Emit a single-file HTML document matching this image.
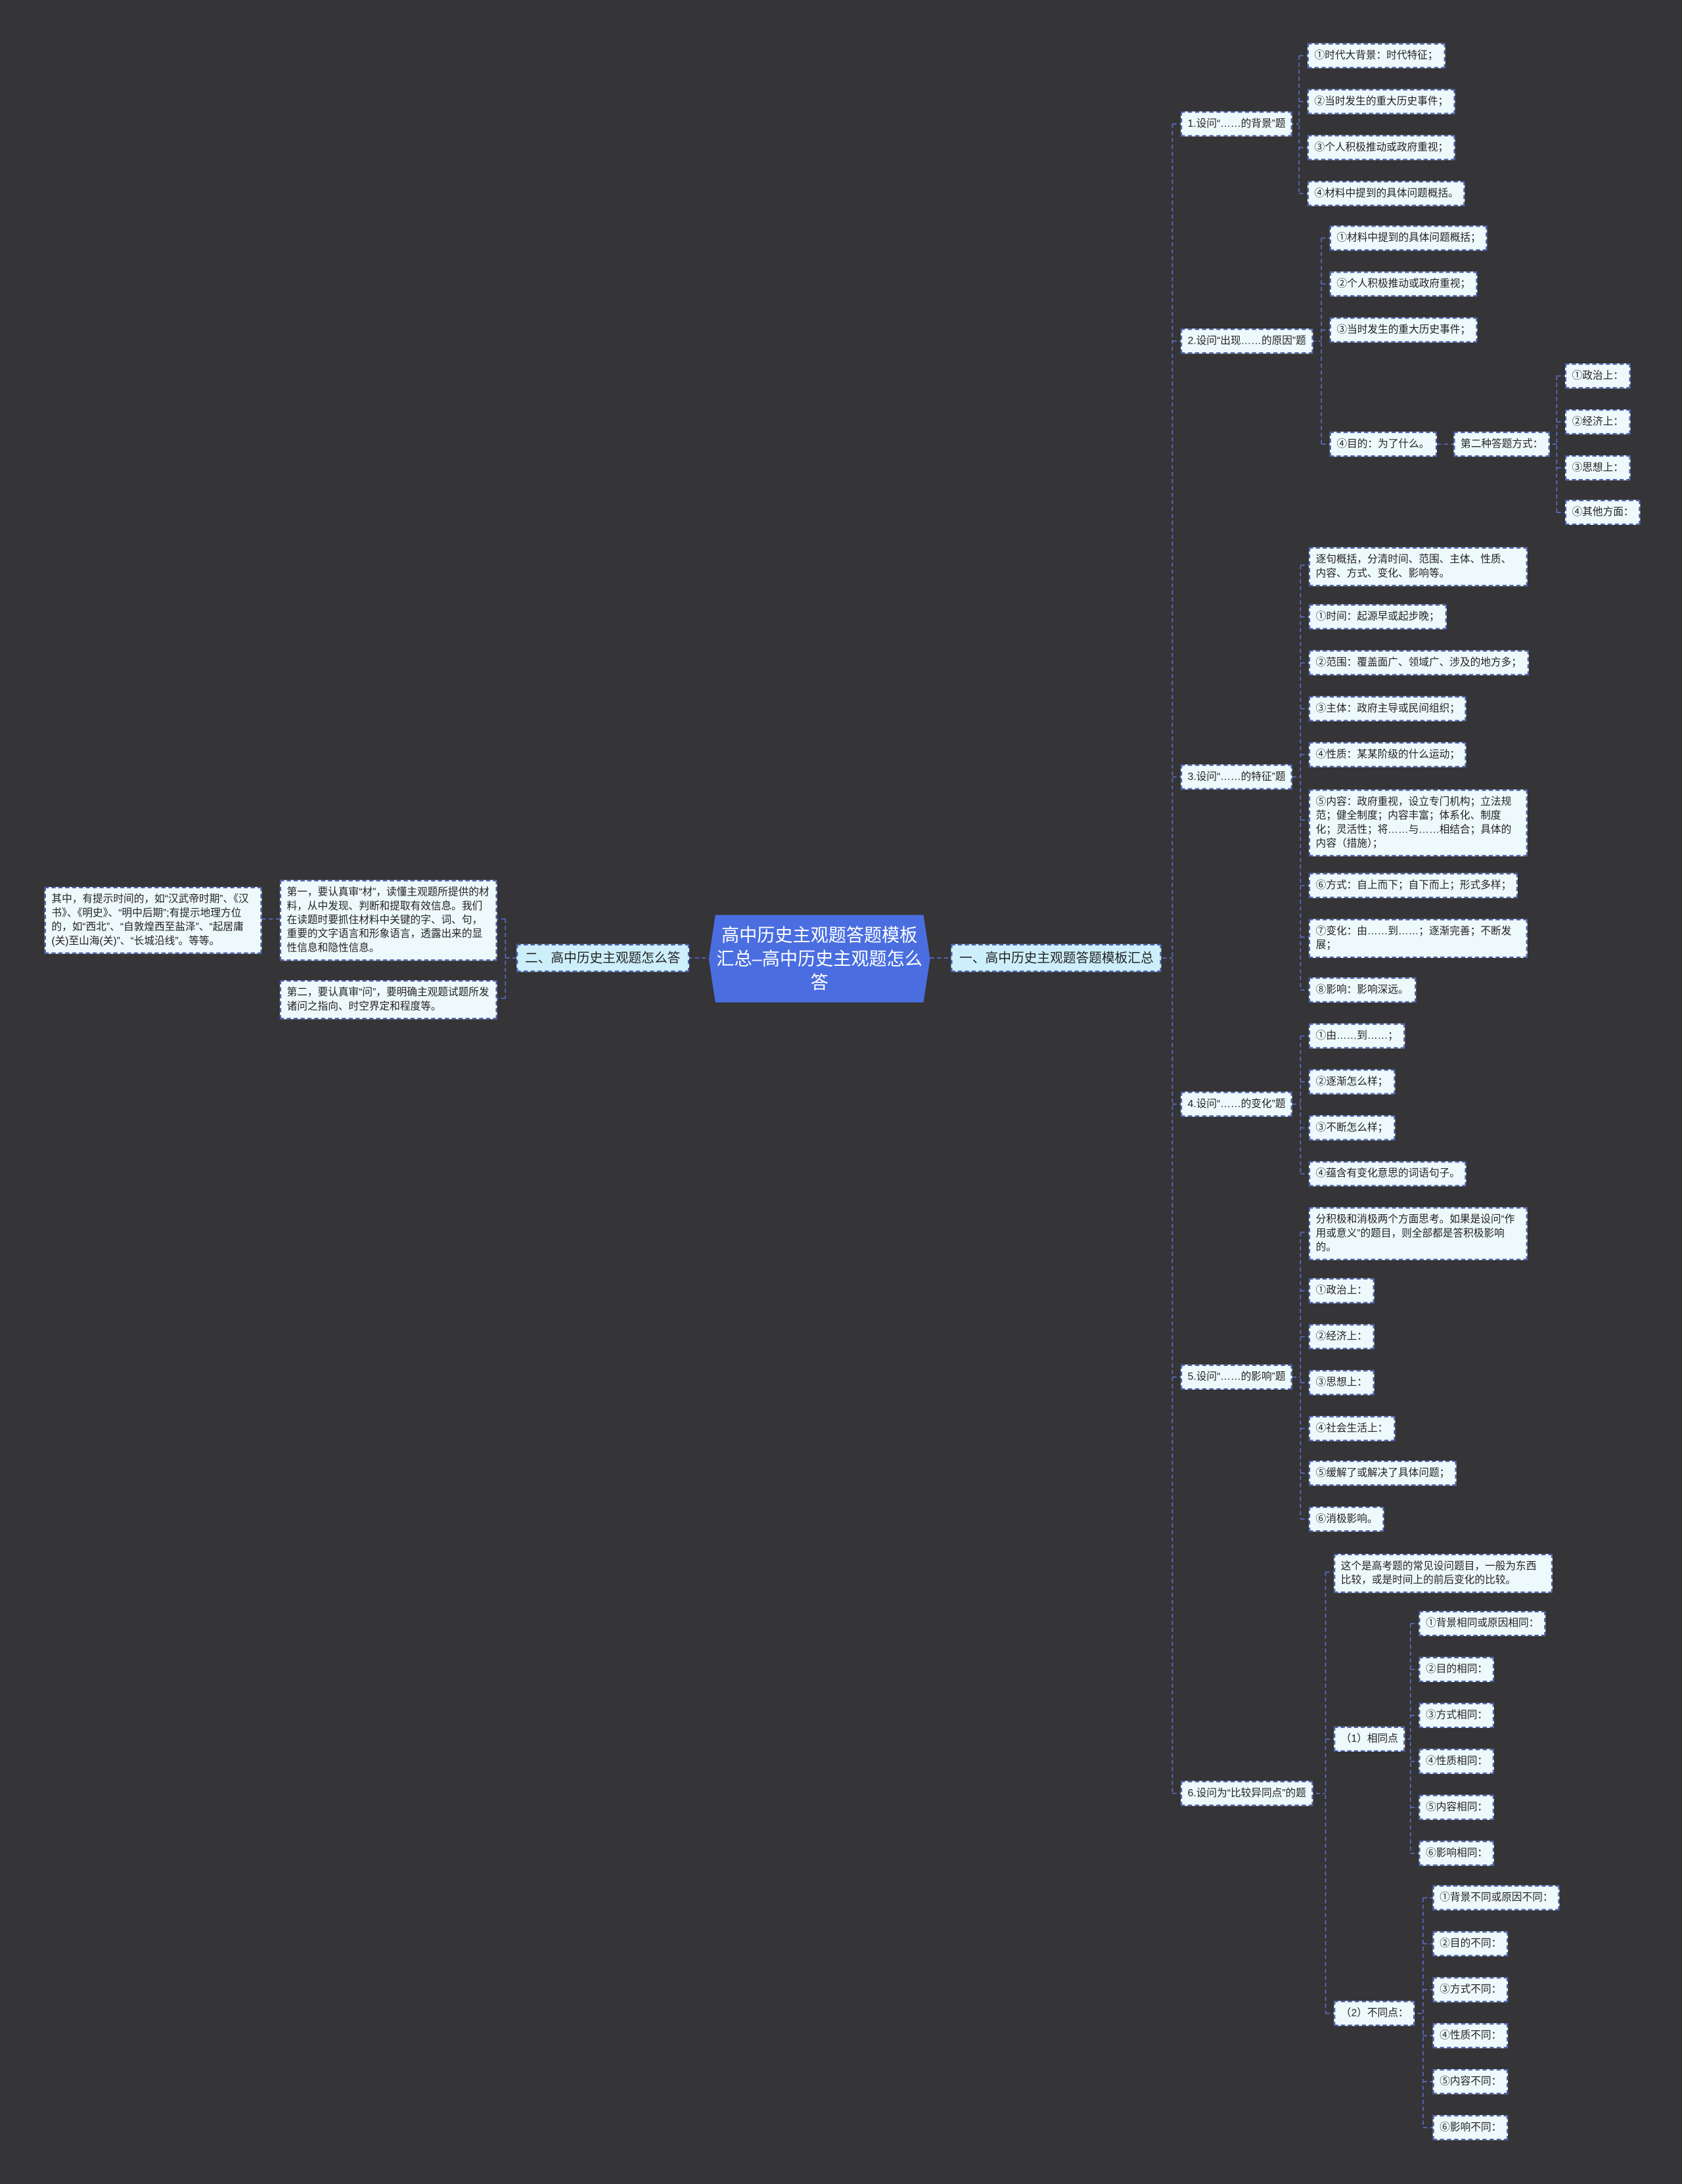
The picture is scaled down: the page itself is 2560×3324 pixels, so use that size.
<!DOCTYPE html>
<html><head><meta charset="utf-8">
<style>
html,body{margin:0;padding:0;background:#353436;}
#wrap{position:absolute;left:0;top:0;width:1208px;height:1568.5px;transform:scale(2.11921);transform-origin:0 0;background:#353436;overflow:hidden;}
.n{position:absolute;background:#eef9fb;border:1px dashed #4a5fb0;color:#222;font-family:"Liberation Sans","Noto Sans CJK SC",sans-serif;font-size:7.4px;line-height:10px;padding:3px 4px;white-space:nowrap;box-sizing:border-box;}
.w{white-space:normal;}
.m{background:#cdeffb;font-size:9.3px;line-height:12px;padding:3px 5px;}
.root{position:absolute;left:509px;top:657px;width:159px;height:63px;background:#4a6ee0;color:#fff;font-family:"Liberation Sans","Noto Sans CJK SC",sans-serif;font-size:12.8px;line-height:17px;text-align:center;display:flex;align-items:center;justify-content:center;clip-path:polygon(3% 0,97% 0,100% 50%,97% 100%,3% 100%,0 50%);padding:0 4px;box-sizing:border-box;}
svg{position:absolute;left:0;top:0;}
</style></head><body>
<div id="wrap">
<svg width="1208" height="1569" fill="none" stroke="#5a6dc8" stroke-width="0.8" stroke-dasharray="3,2">
<path d="M494 688H509M668 688H683"/>
<path d="M835 688H842M842 89V1288M842 89H848M842 245H848M842 558H848M842 793H848M842 989H848M842 1288H848"/>
<path d="M926 89H933M933 40V139M933 40H939M933 73H939M933 106H939M933 139H939"/>
<path d="M942 245H949M949 171V319M949 171H955M949 204H955M949 237H955M949 319H955"/>
<path d="M1032 319H1044M1110 319H1118M1118 270V368M1118 270H1124M1118 303H1124M1118 336H1124M1118 368H1124"/>
<path d="M928 558H934M934 406V711M934 406H940M934 443H940M934 476H940M934 509H940M934 542H940M934 589H940M934 636H940M934 673H940M934 711H940"/>
<path d="M928 793H934M934 744V843M934 744H940M934 777H940M934 810H940M934 843H940"/>
<path d="M928 989H934M934 885V1091M934 885H940M934 927H940M934 960H940M934 993H940M934 1026H940M934 1058H940M934 1091H940"/>
<path d="M945 1288H952M952 1129V1446M952 1129H958M952 1249H958M952 1446H958"/>
<path d="M1006 1249H1013M1013 1166V1331M1013 1166H1019M1013 1199H1019M1013 1232H1019M1013 1265H1019M1013 1298H1019M1013 1331H1019"/>
<path d="M1013 1446H1022M1022 1363V1528M1022 1363H1029M1022 1396H1029M1022 1429H1029M1022 1462H1029M1022 1495H1029M1022 1528H1029"/>
<path d="M371 688H363M363 660V717M363 660H356M363 717H356M201 660H187"/>
</svg>
<div class="root">高中历史主观题答题模板汇总–高中历史主观题怎么答</div>
<div class="n m" style="left:683px;top:678px;">一、高中历史主观题答题模板汇总</div>
<div class="n m" style="left:371px;top:678px;">二、高中历史主观题怎么答</div>
<div class="n w" style="left:201px;top:632px;width:156px;">第一，要认真审“材”，读懂主观题所提供的材料，从中发现、判断和提取有效信息。我们在读题时要抓住材料中关键的字、词、句，重要的文字语言和形象语言，透露出来的显性信息和隐性信息。</div>
<div class="n w" style="left:201px;top:704px;width:156px;">第二，要认真审“问”，要明确主观题试题所发诸问之指向、时空界定和程度等。</div>
<div class="n w" style="left:32px;top:637px;width:156px;">其中，有提示时间的，如“汉武帝时期”、《汉书》、《明史》、“明中后期”;有提示地理方位的，如“西北”、“自敦煌西至盐泽”、“起居庸(关)至山海(关)”、“长城沿线”。等等。</div>

<div class="n" style="left:848px;top:80px;">1.设问“……的背景”题</div>
<div class="n" style="left:939px;top:31px;">①时代大背景：时代特征；</div>
<div class="n" style="left:939px;top:64px;">②当时发生的重大历史事件；</div>
<div class="n" style="left:939px;top:97px;">③个人积极推动或政府重视；</div>
<div class="n" style="left:939px;top:130px;">④材料中提到的具体问题概括。</div>

<div class="n" style="left:848px;top:236px;">2.设问“出现……的原因”题</div>
<div class="n" style="left:955px;top:162px;">①材料中提到的具体问题概括；</div>
<div class="n" style="left:955px;top:195px;">②个人积极推动或政府重视；</div>
<div class="n" style="left:955px;top:228px;">③当时发生的重大历史事件；</div>
<div class="n" style="left:955px;top:310px;">④目的：为了什么。</div>
<div class="n" style="left:1044px;top:310px;">第二种答题方式：</div>
<div class="n" style="left:1124px;top:261px;">①政治上：</div>
<div class="n" style="left:1124px;top:294px;">②经济上：</div>
<div class="n" style="left:1124px;top:327px;">③思想上：</div>
<div class="n" style="left:1124px;top:359px;">④其他方面：</div>

<div class="n" style="left:848px;top:549px;">3.设问“……的特征”题</div>
<div class="n w" style="left:940px;top:393px;width:157px;">逐句概括，分清时间、范围、主体、性质、内容、方式、变化、影响等。</div>
<div class="n" style="left:940px;top:434px;">①时间：起源早或起步晚；</div>
<div class="n" style="left:940px;top:467px;">②范围：覆盖面广、领域广、涉及的地方多；</div>
<div class="n" style="left:940px;top:500px;">③主体：政府主导或民间组织；</div>
<div class="n" style="left:940px;top:533px;">④性质：某某阶级的什么运动；</div>
<div class="n w" style="left:940px;top:567px;width:157px;">⑤内容：政府重视，设立专门机构；立法规范；健全制度；内容丰富；体系化、制度化；灵活性；将……与……相结合；具体的内容（措施）；</div>
<div class="n" style="left:940px;top:627px;">⑥方式：自上而下；自下而上；形式多样；</div>
<div class="n w" style="left:940px;top:660px;width:157px;">⑦变化：由……到……；逐渐完善；不断发展；</div>
<div class="n" style="left:940px;top:702px;">⑧影响：影响深远。</div>

<div class="n" style="left:848px;top:784px;">4.设问“……的变化”题</div>
<div class="n" style="left:940px;top:735px;">①由……到……；</div>
<div class="n" style="left:940px;top:768px;">②逐渐怎么样；</div>
<div class="n" style="left:940px;top:801px;">③不断怎么样；</div>
<div class="n" style="left:940px;top:834px;">④蕴含有变化意思的词语句子。</div>

<div class="n" style="left:848px;top:980px;">5.设问“……的影响”题</div>
<div class="n w" style="left:940px;top:867px;width:157px;">分积极和消极两个方面思考。如果是设问“作用或意义”的题目，则全部都是答积极影响的。</div>
<div class="n" style="left:940px;top:918px;">①政治上：</div>
<div class="n" style="left:940px;top:951px;">②经济上：</div>
<div class="n" style="left:940px;top:984px;">③思想上：</div>
<div class="n" style="left:940px;top:1017px;">④社会生活上：</div>
<div class="n" style="left:940px;top:1049px;">⑤缓解了或解决了具体问题；</div>
<div class="n" style="left:940px;top:1082px;">⑥消极影响。</div>

<div class="n" style="left:848px;top:1279px;">6.设问为“比较异同点”的题</div>
<div class="n w" style="left:958px;top:1116px;width:157px;">这个是高考题的常见设问题目，一般为东西比较，或是时间上的前后变化的比较。</div>
<div class="n" style="left:958px;top:1240px;">（1）相同点</div>
<div class="n" style="left:1019px;top:1157px;">①背景相同或原因相同：</div>
<div class="n" style="left:1019px;top:1190px;">②目的相同：</div>
<div class="n" style="left:1019px;top:1223px;">③方式相同：</div>
<div class="n" style="left:1019px;top:1256px;">④性质相同：</div>
<div class="n" style="left:1019px;top:1289px;">⑤内容相同：</div>
<div class="n" style="left:1019px;top:1322px;">⑥影响相同：</div>
<div class="n" style="left:958px;top:1437px;">（2）不同点：</div>
<div class="n" style="left:1029px;top:1354px;">①背景不同或原因不同：</div>
<div class="n" style="left:1029px;top:1387px;">②目的不同：</div>
<div class="n" style="left:1029px;top:1420px;">③方式不同：</div>
<div class="n" style="left:1029px;top:1453px;">④性质不同：</div>
<div class="n" style="left:1029px;top:1486px;">⑤内容不同：</div>
<div class="n" style="left:1029px;top:1519px;">⑥影响不同：</div>
</div>
</body></html>
